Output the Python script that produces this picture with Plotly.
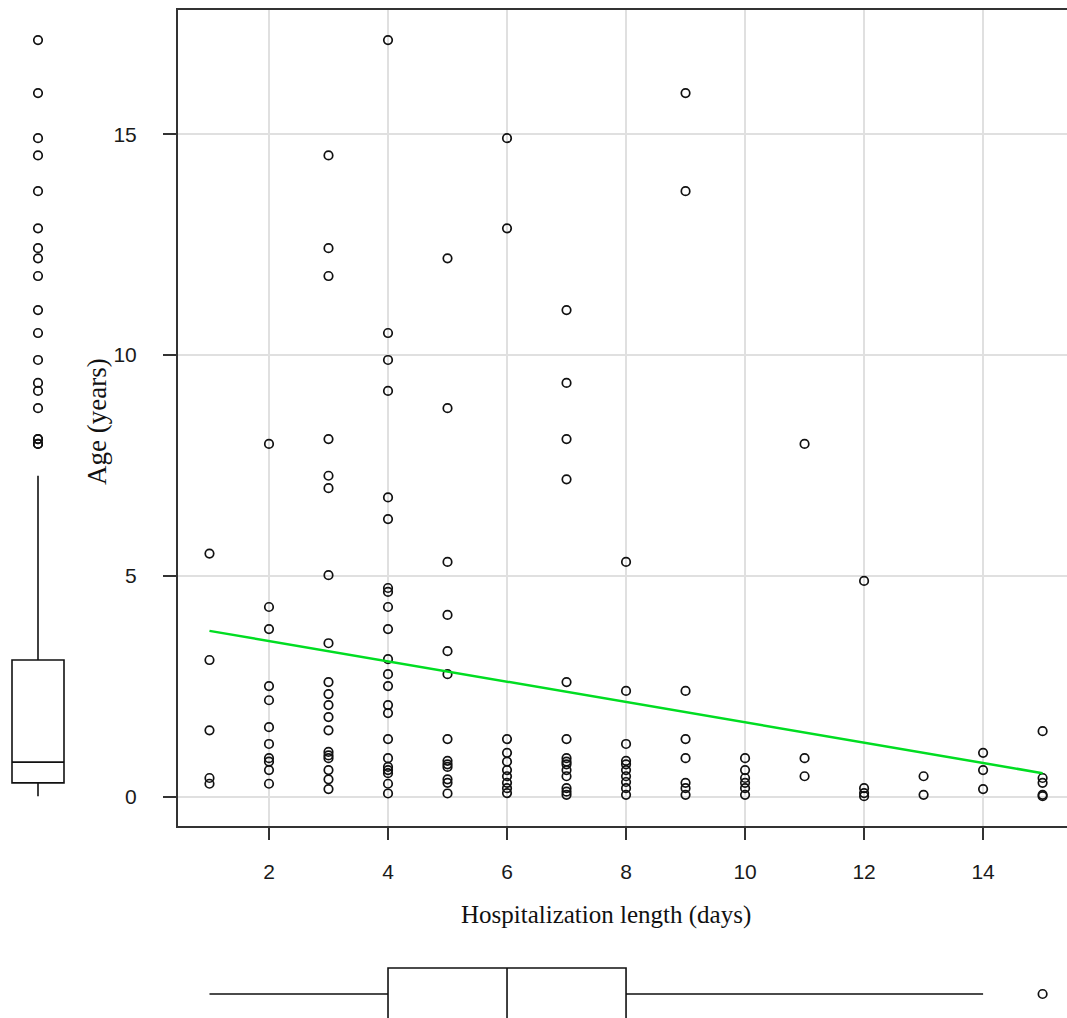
import plotly.graph_objects as go

# ---------------- data ----------------
days_values = [1, 2, 3, 4, 5, 6, 7, 8, 9, 10, 11, 12, 13, 14, 15]
age_by_day = [
    [5.51, 3.10, 1.51, 0.43, 0.30],
    [7.99, 4.30, 3.80, 2.51, 2.19, 1.58, 1.20, 0.88, 0.80, 0.61, 0.30],
    [14.52, 12.42, 11.79, 8.10, 7.27, 6.99, 5.02, 3.48, 2.60, 2.33, 2.08, 1.81,
     1.51, 1.02, 0.94, 0.88, 0.61, 0.40, 0.18],
    [17.13, 10.50, 9.89, 9.19, 6.78, 6.29, 4.73, 4.64, 4.30, 3.80, 3.12, 2.78,
     2.51, 2.08, 1.90, 1.31, 0.88, 0.68, 0.61, 0.54, 0.30, 0.08],
    [12.19, 8.80, 5.32, 4.12, 3.30, 2.78, 1.31, 0.82, 0.74, 0.68, 0.40, 0.32, 0.08],
    [14.91, 12.87, 1.31, 1.00, 0.80, 0.61, 0.47, 0.32, 0.20, 0.09],
    [11.02, 9.37, 8.10, 7.19, 2.60, 1.31, 0.88, 0.80, 0.74, 0.61, 0.47, 0.20, 0.12, 0.05],
    [5.32, 2.40, 1.20, 0.82, 0.74, 0.61, 0.47, 0.34, 0.20, 0.05],
    [15.93, 13.71, 2.40, 1.31, 0.88, 0.32, 0.20, 0.05],
    [0.88, 0.61, 0.43, 0.32, 0.20, 0.05],
    [7.99, 0.88, 0.47],
    [4.89, 0.20, 0.09, 0.02],
    [0.47, 0.05],
    [1.00, 0.61, 0.18],
    [1.49, 0.43, 0.32, 0.05, 0.02],
]
hosp_days = [d for d, ages in zip(days_values, age_by_day) for _ in ages]
age_years = [a for ages in age_by_day for a in ages]

# regression line
fit_intercept = 3.99
fit_slope = -0.23
fit_x = [1, 15]

# box-plot summaries
age_box = dict(q1=0.32, median=0.79, q3=3.10, lower=0.02, upper=7.27)
days_box = dict(q1=4, median=6, q3=8, lower=1, upper=14)

x_ticks = [2, 4, 6, 8, 10, 12, 14]
y_ticks = [0, 5, 10, 15]

# ---------------- layout constants ----------------
W, H = 1067, 1018
X_RANGE = [0.471, 15.41]
Y_RANGE = [-0.656, 17.81]
main_x_dom = [178 / W, 1.0]
main_y_dom = [1 - 826 / H, 1 - 10 / H]
left_x_dom = [0, 0.16]
bottom_y_dom = [0, 0.08]

tick_font = dict(family="Liberation Sans, Arial, sans-serif", size=21, color="#1a1a1a")
xtitle_font = dict(family="Liberation Serif, Times New Roman, serif", size=25, color="#111")
ytitle_font = dict(family="Liberation Serif, Times New Roman, serif", size=27, color="#111")
mk = dict(symbol="circle-open", size=8.5, color="#111", line=dict(width=1.7, color="#111"))

fig = go.Figure()

# main scatter
fig.add_trace(go.Scatter(x=hosp_days, y=age_years, mode="markers", marker=mk,
                         xaxis="x", yaxis="y", showlegend=False))
# regression line
fig.add_trace(go.Scatter(x=fit_x, y=[fit_intercept + fit_slope * v for v in fit_x],
                         mode="lines", line=dict(color="#00dd22", width=2.5),
                         xaxis="x", yaxis="y", showlegend=False))

# left box plot (age)
box_line = dict(color="#111", width=1.6)
fig.add_trace(go.Box(x=[38], q1=[age_box["q1"]], median=[age_box["median"]],
                     q3=[age_box["q3"]], lowerfence=[age_box["lower"]],
                     upperfence=[age_box["upper"]], width=52, whiskerwidth=0,
                     fillcolor="rgba(255,255,255,0)", line=box_line,
                     xaxis="x2", yaxis="y4", showlegend=False, boxpoints=False))
age_out = [a for a in age_years if a > age_box["upper"]]
fig.add_trace(go.Scatter(x=[38] * len(age_out), y=age_out, mode="markers", marker=mk,
                         xaxis="x2", yaxis="y4", showlegend=False))

# bottom box plot (days)
fig.add_trace(go.Box(y=[0], orientation="h", q1=[days_box["q1"]], median=[days_box["median"]],
                     q3=[days_box["q3"]], lowerfence=[days_box["lower"]],
                     upperfence=[days_box["upper"]], width=52, whiskerwidth=0,
                     fillcolor="rgba(255,255,255,0)", line=box_line,
                     xaxis="x5", yaxis="y3", showlegend=False, boxpoints=False))
days_out = sorted(set(d for d in hosp_days if d > days_box["upper"]))
fig.add_trace(go.Scatter(x=days_out, y=[0] * len(days_out), mode="markers", marker=mk,
                         xaxis="x5", yaxis="y3", showlegend=False))

fig.update_layout(
    width=W, height=H,
    margin=dict(l=0, r=0, t=0, b=0),
    paper_bgcolor="white", plot_bgcolor="white",
    showlegend=False,
    xaxis=dict(domain=main_x_dom, range=X_RANGE, anchor="y",
               tickmode="array", tickvals=x_ticks, ticktext=[str(v) for v in x_ticks],
               ticks="outside", ticklen=12, tickwidth=1.5, tickcolor="#333",
               ticklabelstandoff=14,
               showgrid=True, gridcolor="#e0e0e0", gridwidth=2,
               showline=True, linecolor="#333", linewidth=2, mirror=True,
               zeroline=False, tickfont=tick_font),
    yaxis=dict(domain=main_y_dom, range=Y_RANGE, anchor="x",
               tickmode="array", tickvals=y_ticks, ticktext=[str(v) for v in y_ticks],
               ticks="outside", ticklen=13, tickwidth=1.5, tickcolor="#333",
               ticklabelstandoff=22,
               showgrid=True, gridcolor="#e0e0e0", gridwidth=2,
               showline=True, linecolor="#333", linewidth=2, mirror=False,
               zeroline=False, tickfont=tick_font),
    xaxis2=dict(domain=left_x_dom, range=[0, left_x_dom[1] * W], anchor="y4",
                visible=False, showgrid=False, zeroline=False),
    yaxis4=dict(domain=main_y_dom, range=Y_RANGE, anchor="x2",
                visible=False, showgrid=False, zeroline=False),
    xaxis5=dict(domain=main_x_dom, range=X_RANGE, anchor="y3",
                visible=False, showgrid=False, zeroline=False),
    yaxis3=dict(domain=bottom_y_dom, range=[-24, bottom_y_dom[1] * H - 24], anchor="x5",
                visible=False, showgrid=False, zeroline=False),
    annotations=[
        dict(text="Hospitalization length (days)", xref="paper", yref="paper",
             x=606 / W, y=1 - 915 / H, xanchor="center", yanchor="middle",
             showarrow=False, font=xtitle_font),
        dict(text="Age (years)", xref="paper", yref="paper",
             x=97 / W, y=1 - 422 / H, xanchor="center", yanchor="middle",
             showarrow=False, textangle=-90, font=ytitle_font),
    ],
)

fig.write_html("out.html", config={"displayModeBar": False},
               post_script="document.body.style.margin='0';document.body.style.overflow='hidden';")
